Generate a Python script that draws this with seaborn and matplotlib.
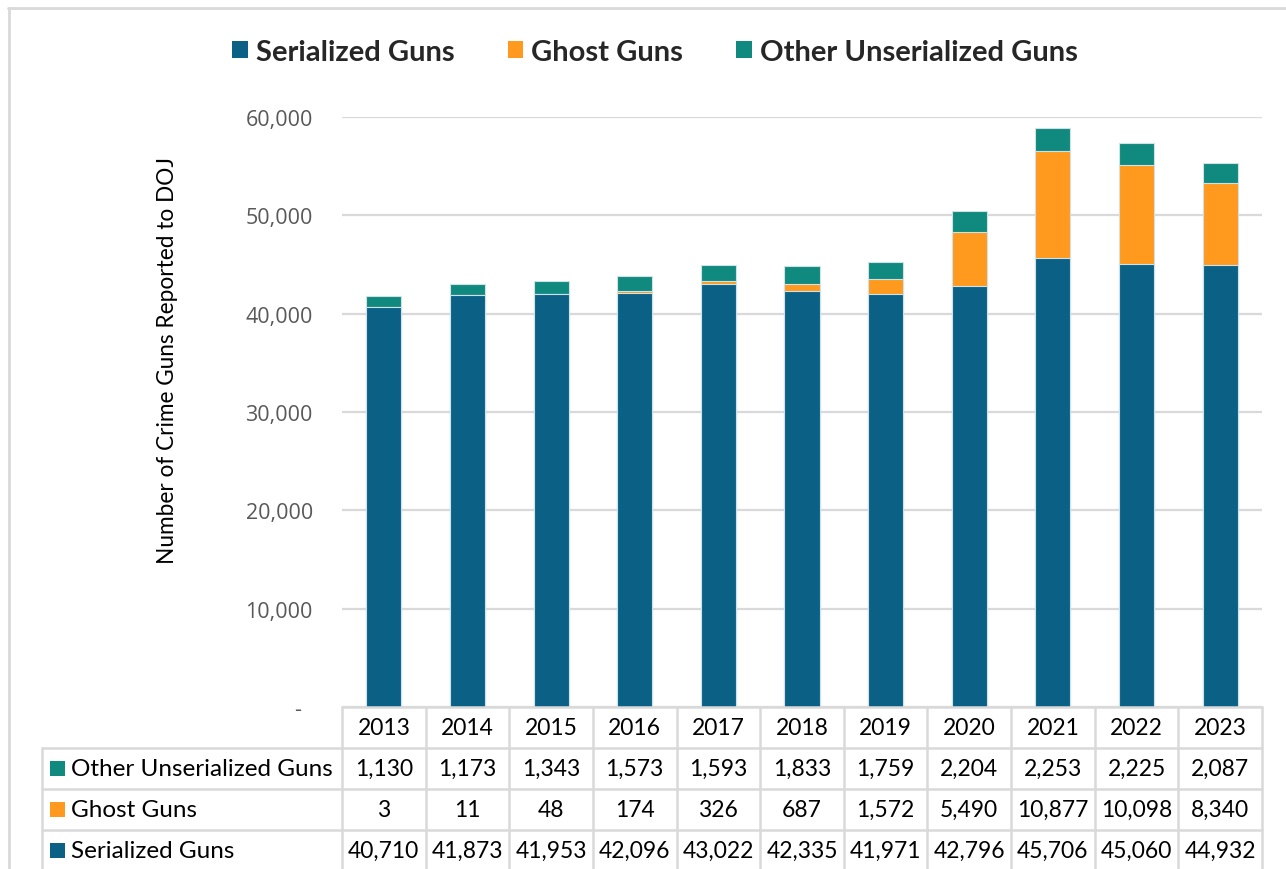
import matplotlib
matplotlib.use("Agg")
import matplotlib.pyplot as plt
import matplotlib.transforms as mtransforms
from matplotlib.lines import Line2D
from matplotlib.patches import Patch, Rectangle
import seaborn as sns
import pandas as pd
import numpy as np

# Crime guns reported to DOJ by year and type
years = ["2013", "2014", "2015", "2016", "2017", "2018", "2019", "2020", "2021", "2022", "2023"]
serialized = [40710, 41873, 41953, 42096, 43022, 42335, 41971, 42796, 45706, 45060, 44932]
ghost = [3, 11, 48, 174, 326, 687, 1572, 5490, 10877, 10098, 8340]
other_unserialized = [1130, 1173, 1343, 1573, 1593, 1833, 1759, 2204, 2253, 2225, 2087]

series_names = ["Serialized Guns", "Ghost Guns", "Other Unserialized Guns"]
y_ticks = [0, 10000, 20000, 30000, 40000, 50000, 60000]

C_SER = "#0B6086"
C_GHOST = "#FF9A1F"
C_OTHER = "#108A7E"
GRID = "#D9D9D9"

sns.set_theme(style="white")
plt.rcParams["font.family"] = ["Lato", "DejaVu Sans"]

W, H = 1286, 870
fig = plt.figure(figsize=(W / 100, H / 100), dpi=100)

def fx(px):
    return px / W

def fy(px):
    return 1 - px / H

ax_left, ax_right, ax_top, ax_bot = 342, 1262, 118, 708
ax = fig.add_axes([fx(ax_left), fy(ax_bot), fx(ax_right - ax_left), (ax_bot - ax_top) / H])

df = pd.DataFrame({
    "year": years,
    "serialized": serialized,
    "ghost": ghost,
    "other": other_unserialized,
})
df["ser_ghost"] = df["serialized"] + df["ghost"]
df["total"] = df["ser_ghost"] + df["other"]

# Stacked bars: draw cumulative totals back to front
edge = "#cfe2e8"
bw = 0.42
sns.barplot(data=df, x="year", y="total", color=C_OTHER, saturation=1, width=bw,
            edgecolor=edge, linewidth=0.8, ax=ax)
sns.barplot(data=df, x="year", y="ser_ghost", color=C_GHOST, saturation=1, width=bw,
            edgecolor=edge, linewidth=0.8, ax=ax)
sns.barplot(data=df, x="year", y="serialized", color=C_SER, saturation=1, width=bw,
            edgecolor=edge, linewidth=0.8, ax=ax)

ax.set_xlim(-0.5, len(years) - 0.5)
ax.set_ylim(0, 60000)
ax.set_yticks(y_ticks)
ax.set_yticklabels(["-  "] + [f"{v:,}" for v in y_ticks[1:]],
                   fontfamily=["Open Sans", "DejaVu Sans"], fontsize=15.5, color="#595959")
ax.tick_params(axis="y", length=0, pad=21)
ax.tick_params(axis="x", length=0, labelbottom=False)
ax.set_xlabel("")
ax.set_ylabel("")
ax.yaxis.grid(True, color=GRID, linewidth=1.6)
ax.xaxis.grid(False)
ax.set_axisbelow(True)
for s in ax.spines.values():
    s.set_visible(False)

fig.text(fx(168), fy(361), "Number of Crime Guns Reported to DOJ",
         rotation=90, ha="center", va="center", fontsize=16.3,
         fontfamily=["Lato", "DejaVu Sans"], color="black")

# Legend
handles = [Patch(facecolor=c, edgecolor="none") for c in (C_SER, C_GHOST, C_OTHER)]
fig.legend(handles, series_names, loc="center", bbox_to_anchor=(fx(655), fy(53)),
           ncol=3, frameon=False, prop={"family": "Lato", "weight": "bold", "size": 21},
           handlelength=0.52, handleheight=0.52, handletextpad=0.28, columnspacing=1.83,
           borderpad=0)

# Outer chart border (top and left)
fig.add_artist(Line2D([fx(8), 1], [fy(9), fy(9)], transform=fig.transFigure, color=GRID, lw=2))
fig.add_artist(Line2D([fx(8.5), fx(8.5)], [fy(9), 0], transform=fig.transFigure, color=GRID, lw=2))

# Data table below the axes
bt = mtransforms.blended_transform_factory(ax.transData, fig.transFigure)
row_edges = [708, 749, 790, 831, 872]
lab_left = 42
n = len(years)
xl, xr = -0.5, n - 0.5

def hline(x0, x1, y, trans):
    fig.add_artist(Line2D([x0, x1], [fy(y), fy(y)], transform=trans, color=GRID, lw=1.8, clip_on=False))

def vline(x, y0, y1, trans):
    fig.add_artist(Line2D([x, x], [fy(y0), fy(y1)], transform=trans, color=GRID, lw=1.8, clip_on=False))

hline(xl, xr, row_edges[0], bt)
for y in row_edges[1:-1]:
    hline(fx(lab_left), fx(ax_right), y, fig.transFigure)
for i in range(n + 1):
    vline(i - 0.5, row_edges[0], row_edges[-1], bt)
vline(fx(lab_left), row_edges[1], row_edges[-1], fig.transFigure)

cell_font = {"family": ["Lato", "DejaVu Sans"], "size": 16.5, "color": "black"}
label_font = {"family": ["Lato", "DejaVu Sans"], "size": 17.5, "color": "black"}

def row_center(k):
    return (row_edges[k] + row_edges[k + 1]) / 2

for i, yr in enumerate(years):
    fig.text(i, fy(row_center(0)), yr, transform=bt, ha="center", va="center", **cell_font)

table_rows = [
    ("Other Unserialized Guns", C_OTHER, other_unserialized),
    ("Ghost Guns", C_GHOST, ghost),
    ("Serialized Guns", C_SER, serialized),
]
for k, (name, col, vals) in enumerate(table_rows, start=1):
    yc = row_center(k)
    fig.add_artist(Rectangle((fx(50), fy(yc + 7.5)), fx(15), 15 / H,
                             transform=fig.transFigure, facecolor=col, edgecolor="none"))
    fig.text(fx(71), fy(yc), name, ha="left", va="center", **label_font)
    for i, v in enumerate(vals):
        fig.text(i, fy(yc), f"{v:,}", transform=bt, ha="center", va="center", **cell_font)

fig.savefig("out.png", dpi=100)
